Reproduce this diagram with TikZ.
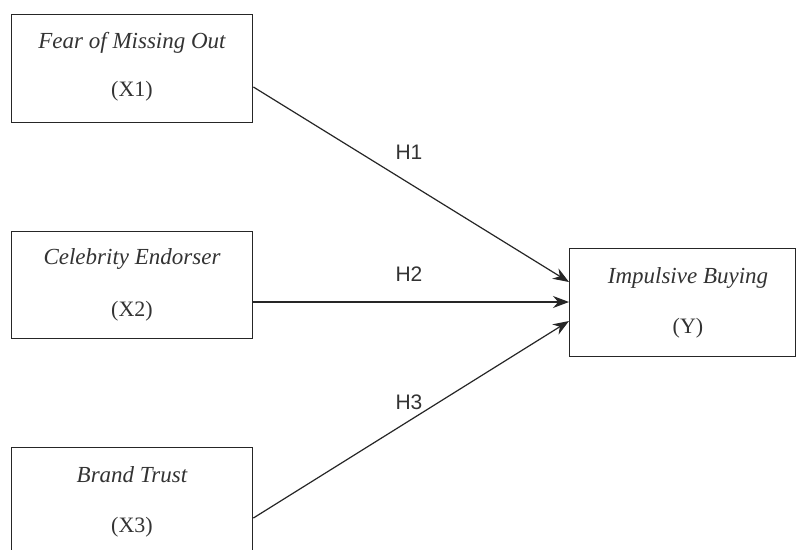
\documentclass[tikz,border=0pt]{standalone}
\usepackage{fontspec}
\setmainfont{Liberation Serif}
\newfontfamily\hfont{Liberation Sans}
\usetikzlibrary{arrows.meta}
\begin{document}
\begin{tikzpicture}[x=1pt,y=-1pt,
  varbox/.style={draw=black!85,line width=1.4pt,rectangle,inner sep=0pt},
  vartitle/.style={font=\fontsize{23}{27}\selectfont\itshape,text=black!80,inner sep=0pt},
  varcode/.style={font=\fontsize{22}{26}\selectfont,text=black!80,inner sep=0pt},
  hyp/.style={font=\hfont\fontsize{21}{25}\selectfont,text=black!80,inner sep=0pt},
  conn/.style={draw=black!85,line width=1.2pt,-{Stealth[length=16pt,width=12pt]}}]
\useasboundingbox (0,0) rectangle (797,549);
\clip (0,0) rectangle (797,549);
\fill[white] (0,0) rectangle (797,549);
% boxes
\node[varbox,minimum width=241pt,minimum height=108pt,anchor=north west] (x1) at (11,14) {};
\node[varbox,minimum width=241pt,minimum height=107pt,anchor=north west] (x2) at (11,231) {};
\node[varbox,minimum width=241pt,minimum height=120pt,anchor=north west] (x3) at (11,447) {};
\node[varbox,minimum width=226pt,minimum height=108pt,anchor=north west] (y) at (569,248) {};
% texts
\node[vartitle] (t1) at (132,43) {Fear of Missing Out};
\node[varcode] (c1) at (132,91) {(X1)};
\node[vartitle] (t2) at (132,259) {Celebrity Endorser};
\node[varcode] (c2) at (132,311) {(X2)};
\node[vartitle] (t3) at (132,475) {Brand Trust};
\node[varcode] (c3) at (132,527) {(X3)};
\node[vartitle] (ty) at (688,278) {Impulsive Buying};
\node[varcode] (cy) at (688,328) {(Y)};
% connector endpoints
\coordinate (s1) at (x1.east |- 0,87);
\coordinate (s2) at (x2.east |- 0,302);
\coordinate (s3) at (x3.east |- 0,518);
\coordinate (e1) at (y.west |- 0,282);
\coordinate (e2) at (y.west |- 0,302);
\coordinate (e3) at (y.west |- 0,321);
\draw[conn] (s1) -- (e1);
\draw[conn] (s2) -- (e2);
\draw[conn] (s3) -- (e3);
% labels
\node[hyp] (h1) at (409,152) {H1};
\node[hyp] (h2) at (409,274) {H2};
\node[hyp] (h3) at (409,402) {H3};
\end{tikzpicture}
\end{document}
